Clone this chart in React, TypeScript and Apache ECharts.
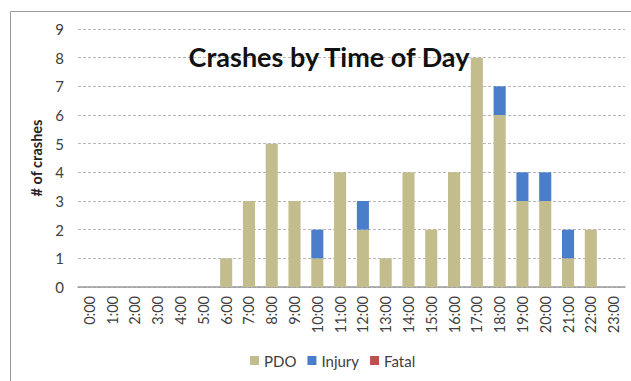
import React, { useEffect, useRef } from "react";
import * as echarts from "echarts";

const hours = [
  "0:00", "1:00", "2:00", "3:00", "4:00", "5:00", "6:00", "7:00", "8:00", "9:00", "10:00", "11:00",
  "12:00", "13:00", "14:00", "15:00", "16:00", "17:00", "18:00", "19:00", "20:00", "21:00", "22:00", "23:00",
];
const pdo = [0, 0, 0, 0, 0, 0, 1, 3, 5, 3, 1, 4, 2, 1, 4, 2, 4, 8, 6, 3, 3, 1, 2, 0];
const injury = [0, 0, 0, 0, 0, 0, 0, 0, 0, 0, 1, 0, 1, 0, 0, 0, 0, 0, 1, 1, 1, 1, 0, 0];
const fatal = [0, 0, 0, 0, 0, 0, 0, 0, 0, 0, 0, 0, 0, 0, 0, 0, 0, 0, 0, 0, 0, 0, 0, 0];

const FONT = "Lato, 'Open Sans', sans-serif";

export default function App() {
  const ref = useRef<HTMLDivElement>(null);

  useEffect(() => {
    if (!ref.current) return;
    const chart = echarts.init(ref.current, undefined, { renderer: "svg" });
    chart.setOption({
      animation: false,
      backgroundColor: "#ffffff",
      title: {
        text: "Crashes by Time of Day",
        left: 324,
        top: 38,
        textAlign: "center",
        textStyle: { fontFamily: FONT, fontWeight: "bold", fontSize: 27, color: "#111111" },
      },
      graphic: [
        {
          type: "rect",
          shape: { x: 10.5, y: 11.5, width: 640, height: 400 },
          style: { fill: "none", stroke: "#9a9a9a", lineWidth: 1 },
          silent: true,
        },
      ],
      legend: {
        bottom: 8,
        left: 245,
        itemWidth: 9,
        itemHeight: 9,
        itemGap: 11,
        icon: "rect",
        textStyle: { fontFamily: FONT, fontSize: 15, color: "#404040" },
        data: ["PDO", "Injury", "Fatal"],
      },
      grid: { left: 78, right: 6, top: 29, bottom: 94, containLabel: false },
      xAxis: {
        type: "category",
        data: hours,
        axisTick: { show: false },
        axisLine: { lineStyle: { color: "#9a9a9a", width: 1.5 } },
        axisLabel: {
          rotate: 90,
          interval: 0,
          margin: 9,
          fontFamily: FONT,
          fontSize: 14.5,
          color: "#404040",
        },
      },
      yAxis: {
        type: "value",
        min: 0,
        max: 9,
        interval: 1,
        name: "# of crashes",
        nameLocation: "middle",
        nameGap: 32,
        nameTextStyle: { fontFamily: FONT, fontWeight: "bold", fontSize: 14.5, color: "#222222" },
        axisLine: { show: false },
        axisTick: { show: false },
        axisLabel: { fontFamily: FONT, fontSize: 15, color: "#404040", margin: 14 },
        splitLine: { lineStyle: { color: "#b8b8b8", type: [3, 2], width: 1 } },
      },
      series: [
        {
          name: "PDO",
          type: "bar",
          stack: "total",
          data: pdo,
          barWidth: "53%",
          itemStyle: { color: "#c3bd8d" },
        },
        {
          name: "Injury",
          type: "bar",
          stack: "total",
          data: injury,
          itemStyle: { color: "#4a7ecb" },
        },
        {
          name: "Fatal",
          type: "bar",
          stack: "total",
          data: fatal,
          itemStyle: { color: "#c0504d" },
        },
      ],
    });
    return () => chart.dispose();
  }, []);

  return (
    <div
      ref={ref}
      style={{ position: "absolute", left: 0, top: 0, width: 631, height: 381 }}
    />
  );
}
